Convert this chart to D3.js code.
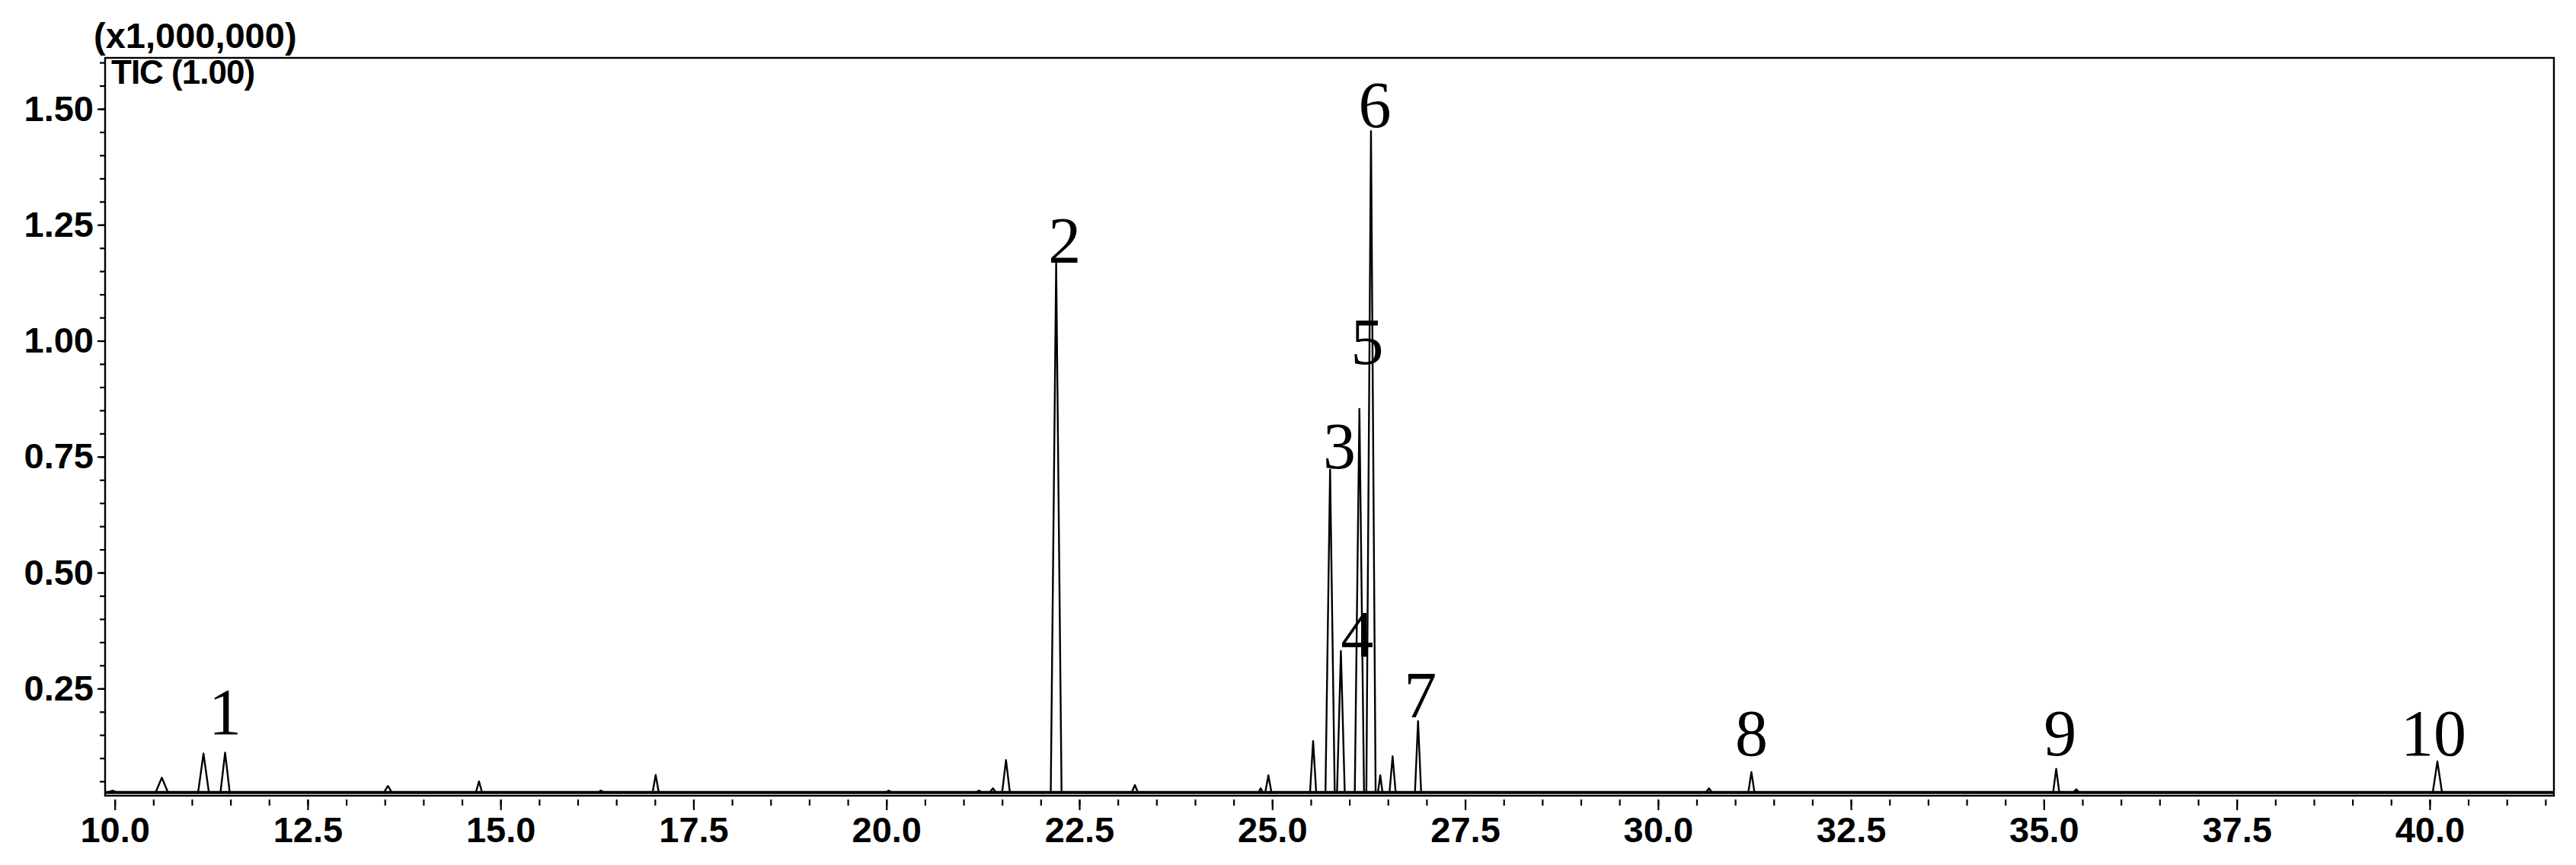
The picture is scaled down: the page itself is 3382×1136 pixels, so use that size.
<!DOCTYPE html>
<html>
<head>
<meta charset="utf-8">
<script src="https://cdn.jsdelivr.net/npm/d3@7"></script>
<style>
body { margin: 0; background: #fff; }
.tick text { font-family: "Liberation Sans", Arial, sans-serif; font-weight: bold; font-size: 47px; fill: #000; }
.tick line { stroke: #000; stroke-width: 2.2px; }
</style>
</head>
<body>
<div id="chart"></div>
<script>
// peaks: retention time (min), apex (x1,000,000), half base width (min)
const peakTimes   = [9.97, 10.61, 11.15, 11.43, 13.54, 14.72, 16.30, 17.01, 20.03, 21.20, 21.38, 21.55, 22.20, 23.22, 24.85, 24.95, 25.53, 25.75, 25.89, 26.13, 26.28, 26.40, 26.56, 26.89, 30.66, 31.21, 35.16, 35.42, 40.10];
const peakHeights = [0.030, 0.058, 0.110, 0.112, 0.040, 0.050, 0.030, 0.064, 0.030, 0.030, 0.035, 0.096, 1.168, 0.042, 0.035, 0.063, 0.137, 0.722, 0.331, 0.853, 1.452, 0.063, 0.104, 0.180, 0.035, 0.070, 0.077, 0.033, 0.093];
const peakWidths  = [0.06, 0.08, 0.07, 0.06, 0.05, 0.04, 0.04, 0.04, 0.04, 0.04, 0.04, 0.05, 0.07, 0.04, 0.03, 0.04, 0.04, 0.06, 0.05, 0.06, 0.06, 0.03, 0.04, 0.04, 0.04, 0.04, 0.04, 0.04, 0.06];
const baselineLevel = 0.026;

// numbered compound labels
const labelTexts  = ["1", "2", "3", "4", "5", "6", "7", "8", "9", "10"];
const labelTimes  = [11.43, 22.31, 25.87, 26.10, 26.23, 26.33, 26.92, 31.21, 35.21, 40.05];
const labelLevels = [0.152, 1.168, 0.725, 0.319, 0.950, 1.460, 0.188, 0.106, 0.106, 0.106];

const xTicks = [10.0, 12.5, 15.0, 17.5, 20.0, 22.5, 25.0, 27.5, 30.0, 32.5, 35.0, 37.5, 40.0];
const yTicks = [0.25, 0.50, 0.75, 1.00, 1.25, 1.50];
const xRange = [9.875, 41.61];
const yRange = [0.019, 1.61];

const margin = { top: 76, right: 29, bottom: 91, left: 138 };
const width = 3382 - margin.left - margin.right,
      height = 1136 - margin.top - margin.bottom;

const svg = d3.select("#chart").append("svg")
    .attr("width", 3382)
    .attr("height", 1136);

const g = svg.append("g")
    .attr("transform", "translate(" + margin.left + "," + margin.top + ")");

const x = d3.scaleLinear().domain(xRange).range([0, width]);
const y = d3.scaleLinear().domain(yRange).range([height, 0]);

// minor ticks every 0.5 min / 0.05
const xMinor = d3.range(20, 84).map(i => i / 2).filter(v => v >= xRange[0] && v <= xRange[1]);
const yMinor = d3.range(1, 33).map(i => i / 20);

g.append("g")
    .attr("transform", "translate(0," + (height + 5) + ")")
    .call(d3.axisBottom(x).tickValues(xMinor).tickSize(8).tickFormat(""))
    .call(a => a.select(".domain").remove());

g.append("g")
    .attr("transform", "translate(0," + (height + 5) + ")")
    .call(d3.axisBottom(x).tickValues(xTicks).tickSize(14).tickPadding(9).tickFormat(d3.format(".1f")))
    .call(a => a.select(".domain").remove());

g.append("g")
    .call(d3.axisLeft(y).tickValues(yMinor).tickSize(7).tickFormat(""))
    .call(a => a.select(".domain").remove());

g.append("g")
    .call(d3.axisLeft(y).tickValues(yTicks).tickSize(10).tickPadding(5).tickFormat(d3.format(".2f")))
    .call(a => a.select(".domain").remove());

// trace
const pts = [[xRange[0], baselineLevel]];
peakTimes.forEach((t, i) => {
    pts.push([t - peakWidths[i], baselineLevel]);
    pts.push([t, peakHeights[i]]);
    pts.push([t + peakWidths[i], baselineLevel]);
});
pts.push([xRange[1], baselineLevel]);

g.append("clipPath").attr("id", "plotclip")
    .append("rect").attr("width", width).attr("height", height);

// noisy baseline shows as a heavy band at the bottom
g.append("line")
    .attr("clip-path", "url(#plotclip)")
    .attr("x1", x(xRange[0]))
    .attr("x2", x(xRange[1]))
    .attr("y1", y(baselineLevel))
    .attr("y2", y(baselineLevel))
    .attr("stroke", "#000")
    .attr("stroke-width", 4);

g.append("path")
    .datum(pts)
    .attr("clip-path", "url(#plotclip)")
    .attr("fill", "none")
    .attr("stroke", "#000")
    .attr("stroke-width", 2.4)
    .attr("stroke-linejoin", "round")
    .attr("d", d3.line().x(d => x(d[0])).y(d => y(d[1])));

// frame
g.append("rect")
    .attr("width", width)
    .attr("height", height)
    .attr("fill", "none")
    .attr("stroke", "#000")
    .attr("stroke-width", 2.4);

// peak numbers
g.selectAll(".peaklabel")
    .data(labelTexts)
    .enter().append("text")
    .attr("class", "peaklabel")
    .attr("x", (d, i) => x(labelTimes[i]))
    .attr("y", (d, i) => y(labelLevels[i]))
    .attr("text-anchor", "middle")
    .style("font-family", "'Liberation Serif', 'Times New Roman', serif")
    .style("font-size", "86px")
    .text(d => d);

svg.append("text")
    .attr("x", 123)
    .attr("y", 63)
    .style("font-family", "'Liberation Sans', Arial, sans-serif")
    .style("font-weight", "bold")
    .style("font-size", "47px")
    .text("(x1,000,000)");

svg.append("text")
    .attr("x", 146)
    .attr("y", 110)
    .style("font-family", "'Liberation Sans', Arial, sans-serif")
    .style("font-weight", "bold")
    .style("font-size", "44px")
    .style("letter-spacing", "-1px")
    .text("TIC (1.00)");
</script>
</body>
</html>
